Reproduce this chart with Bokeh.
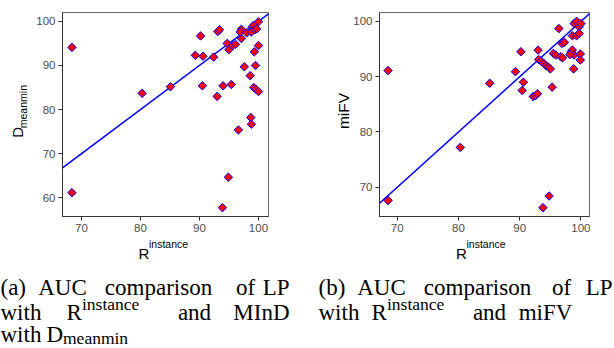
import math
from bokeh.plotting import figure
from bokeh.models import Range1d, FixedTicker, Slope
from bokeh.layouts import column, row
from bokeh.embed import file_html
from bokeh.resources import INLINE
from bokeh.core.properties import value

# ---------------- data ----------------
r_a = [68.4, 68.4, 80.3, 85.1, 89.3, 90.2, 90.6, 90.5, 92.4, 93.1, 93.4, 93.0, 94.0, 93.9,
       94.7, 95.0, 94.9, 95.4, 95.6, 96.1, 96.6, 97.1, 97.1, 96.9, 97.6, 98.0, 98.6, 98.7,
       98.8, 98.9, 99.2, 98.8, 99.4, 99.7, 100.0, 99.3, 99.5, 99.2, 99.6, 100.0, 100.0]
d_meanmin = [94.1, 61.2, 83.7, 85.2, 92.3, 96.7, 92.1, 85.4, 91.9, 97.7, 98.1, 83.0, 85.4, 57.8,
             95.0, 93.6, 64.7, 85.7, 94.5, 94.8, 75.4, 96.1, 98.2, 97.6, 89.7, 97.4, 87.7, 78.2,
             76.7, 98.7, 99.1, 97.6, 98.1, 98.3, 99.9, 93.1, 90.0, 85.0, 84.6, 84.1, 94.5]

r_b = [68.5, 68.5, 80.3, 85.1, 89.3, 90.2, 90.6, 90.4, 92.2, 92.6, 92.9, 93.0, 93.8, 94.8,
       95.3, 93.1, 93.5, 93.9, 94.3, 94.7, 95.0, 96.4, 95.5, 95.9, 96.7, 96.9, 97.3, 97.0,
       98.4, 98.6, 98.9, 98.2, 98.8, 98.6, 99.3, 98.9, 99.3, 99.7, 100.0, 99.7, 99.9, 99.9]
mifv = [91.1, 67.6, 77.2, 88.8, 90.9, 94.5, 89.0, 87.5, 86.4, 86.6, 86.9, 94.8, 66.3, 68.4,
        88.1, 93.1, 92.8, 92.4, 92.0, 91.7, 91.4, 98.7, 94.2, 93.9, 93.6, 96.0, 96.2, 93.4,
        94.5, 94.8, 93.9, 94.0, 91.4, 97.4, 97.4, 99.6, 100.0, 99.0, 99.6, 97.8, 94.1, 93.0]

x_ticks = [70, 80, 90, 100]
y_ticks_a = [60, 70, 80, 90, 100]
y_ticks_b = [70, 80, 90, 100]
ref_slope, ref_intercept = 1.0, 0.0

SANS = "Liberation Sans"
SERIF = "Liberation Serif"
PANEL_H = 238


def panel(xs, ys, xr, yr, yticks, width, left, right):
    p = figure(width=width, height=PANEL_H, x_range=Range1d(*xr), y_range=Range1d(*yr),
               output_backend="svg", toolbar_location=None,
               min_border_left=left, min_border_right=right,
               min_border_top=12, min_border_bottom=PANEL_H - 216)
    p.grid.visible = False
    p.outline_line_color = "#666666"
    p.outline_line_width = 1
    for ax, ticks in ((p.xaxis[0], x_ticks), (p.yaxis[0], yticks)):
        ax.ticker = FixedTicker(ticks=ticks)
        ax.minor_tick_line_color = None
        ax.major_tick_in = 0
        ax.major_tick_out = 4
        ax.major_tick_line_color = "#333333"
        ax.axis_line_color = "#333333"
        ax.major_label_text_font = SANS
        ax.major_label_text_font_size = "11.5px"
        ax.major_label_text_color = "#4D4D4D"
        ax.major_label_standoff = 3
    p.add_layout(Slope(gradient=ref_slope, y_intercept=ref_intercept,
                       line_color="blue", line_width=1.5, level="underlay"))
    p.scatter(xs, ys, marker="square", angle=math.pi / 4, size=6,
              fill_color="red", line_color="blue", line_width=1)
    return p


def text_fig(width, height):
    f = figure(width=width, height=height, x_range=Range1d(0, width), y_range=Range1d(0, height),
               output_backend="svg", toolbar_location=None,
               x_axis_location=None, y_axis_location=None,
               min_border_left=0, min_border_right=0, min_border_top=0, min_border_bottom=0)
    f.grid.visible = False
    f.outline_line_color = None
    return f


def put(f, top, xs, sys_, texts, align="left", font=SERIF, size="23px", angle=0.0):
    H = f.height
    f.text(x=xs, y=[H - (s - top) for s in sys_], text=texts, angle=angle,
           text_font=value(font), text_font_size=value(size),
           text_align=align, text_baseline="alphabetic", text_color="black")


pa = panel(r_a, d_meanmin, (66.8, 101.7), (55.8, 102.0), y_ticks_a, 270, 32, 32)
pb = panel(r_b, mifv, (67.1, 101.4), (64.7, 101.6), y_ticks_b, 264, 29, 25)

# y-axis titles (strips left of each panel); page x offsets 0 and 300
ya = text_fig(30, PANEL_H)
put(ya, 0, [16.5], [146], ["D"], font=SANS, size="15px", angle=math.pi / 2)
put(ya, 0, [22.5], [135], ["meanmin"], font=SANS, size="10.5px", angle=math.pi / 2)
yb = text_fig(50, PANEL_H)
put(yb, 0, [42.5], [136], ["miFV"], font=SANS, size="15.5px", angle=math.pi / 2)

# x-axis titles and captions
CAP_TOP = PANEL_H
cap = text_fig(614, 348 - PANEL_H)
put(cap, CAP_TOP, [138, 455.5], [252.5, 252.5], ["R", "R"], font=SANS, size="15px")
put(cap, CAP_TOP, [148.5, 466], [243, 243], ["instance", "instance"], font=SANS, size="10.5px")

L1, L2, L3 = 287, 312, 334
put(cap, CAP_TOP, [0, 0, 0, 318, 318], [L1, L2, L3, L1, L2],
    ["(a)", "with", "with", "(b)", "with"], "left")
put(cap, CAP_TOP, [62, 158, 245, 194, 381, 477, 561, 489, 545],
    [L1, L1, L1, L2, L1, L1, L1, L2, L2],
    ["AUC", "comparison", "of", "and", "AUC", "comparison", "of", "and", "miFV"], "center")
put(cap, CAP_TOP, [289, 289, 612], [L1, L2, L1], ["LP", "MInD", "LP"], "right")
put(cap, CAP_TOP, [66, 371, 46], [L2, L2, L3], ["R", "R", "D"], "left")
put(cap, CAP_TOP, [81.5, 386.5], [L2 - 9, L2 - 9], ["instance", "instance"], "left", size="17.5px")
put(cap, CAP_TOP, [62.5], [L3 + 3], ["meanmin"], "left", size="17.5px")

layout = column(row(ya, pa, yb, pb), cap)
open("out.html", "w").write(file_html(layout, INLINE))
